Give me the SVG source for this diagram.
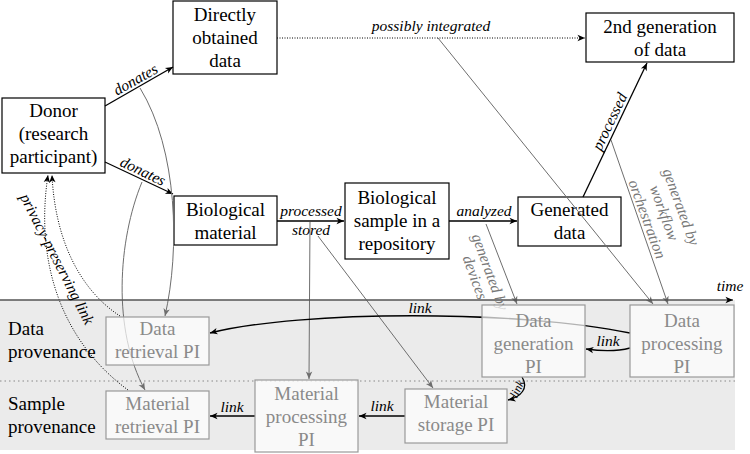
<svg xmlns="http://www.w3.org/2000/svg" width="750" height="454" viewBox="0 0 750 454">
<style>
text{font-family:'Liberation Serif','Times New Roman',serif}
.box{fill:#fff;stroke:#000;stroke-width:1.2}
.pi{fill:#fff;fill-opacity:0.7;stroke:#999;stroke-width:1.2}
.t{font-size:19px;text-anchor:middle;fill:#000}
.tp{font-size:19px;text-anchor:middle;fill:#8a8a8a}
.side{font-size:19px;fill:#000}
.lb{font-size:15.5px;font-style:italic;text-anchor:middle;fill:#000}
.lg{font-size:15.5px;font-style:italic;text-anchor:middle;fill:#777}
.blk{fill:none;stroke:#000;stroke-width:1.3;marker-end:url(#ah)}
.gry{fill:none;stroke:#6e6e6e;stroke-width:1;marker-end:url(#ahg)}
.dot{fill:none;stroke:#000;stroke-width:1;stroke-dasharray:1 1.5;marker-end:url(#ah)}
</style>
<defs>
<marker id="ah" viewBox="-8 -4 9 8" refX="0" refY="0" markerWidth="9" markerHeight="8" orient="auto" markerUnits="userSpaceOnUse"><path d="M0,0 L-7.5,-3.2 L-5.5,0 L-7.5,3.2 Z" fill="#000"/></marker>
<marker id="ahg" viewBox="-8 -4 9 8" refX="0" refY="0" markerWidth="9" markerHeight="8" orient="auto" markerUnits="userSpaceOnUse"><path d="M0,0 L-7.5,-3.2 L-5.5,0 L-7.5,3.2 Z" fill="#6e6e6e"/></marker>
</defs>

<g id="background">
<rect x="0" y="300" width="735" height="150" fill="#ebebeb"/>
<line x1="0" y1="381" x2="735" y2="381" stroke="#888" stroke-width="1" stroke-dasharray="1.5 3"/>
<text class="side" x="8" y="335">Data</text>
<text class="side" x="8" y="358">provenance</text>
<text class="side" x="8" y="410">Sample</text>
<text class="side" x="8" y="433">provenance</text>
</g>

<g id="n-direct"><rect class="box" x="173" y="1" width="104" height="73"/>
<text class="t" x="225" y="21">Directly</text><text class="t" x="225" y="44">obtained</text><text class="t" x="225" y="67">data</text></g>
<g id="n-donor"><rect class="box" x="2" y="98" width="103" height="75"/>
<text class="t" x="53.5" y="117">Donor</text><text class="t" x="53.5" y="140">(research</text><text class="t" x="53.5" y="163">participant)</text></g>
<g id="n-biomat"><rect class="box" x="174" y="196" width="103" height="49"/>
<text class="t" x="225.5" y="216">Biological</text><text class="t" x="225.5" y="239">material</text></g>
<g id="n-sample"><rect class="box" x="345" y="183" width="104" height="76"/>
<text class="t" x="397" y="204">Biological</text><text class="t" x="397" y="227">sample in a</text><text class="t" x="397" y="250">repository</text></g>
<g id="n-gendata"><rect class="box" x="518" y="197" width="103" height="49"/>
<text class="t" x="569.5" y="216">Generated</text><text class="t" x="569.5" y="239">data</text></g>
<g id="n-2nd"><rect class="box" x="586" y="13" width="148" height="49"/>
<text class="t" x="660" y="32.5">2nd generation</text><text class="t" x="660" y="55.5">of data</text></g>

<g id="connectors">
<path class="blk" d="M105,106 L173,67"/>
<path class="blk" d="M105,162 L173,194"/>
<path class="blk" d="M277,221 L344,221"/>
<path class="blk" d="M449,221 L517,221"/>
<path class="blk" d="M583,197 L647,63"/>
<path class="dot" d="M277,38 L585,38"/>
<path class="gry" d="M140,88 C178,150 180,250 165,316"/>
<path class="gry" d="M142,182 C118,240 112,330 145,390"/>
<path class="gry" d="M310,222 L309,379"/>
<path class="gry" d="M318,236 L433,388"/>
<path class="gry" d="M486,224 L517,304"/>
<path class="gry" d="M438,38 L653,304"/>
<path class="gry" d="M611,140 L668,304"/>
<path class="dot" d="M120,316 C80,290 55,240 52,175"/>
<path class="dot" d="M128,390 C60,340 35,260 48,175"/>
<path class="blk" d="M630,333 C520,310 300,310 210,333"/>
<path class="blk" d="M630,348 C615,352 600,351 586,349"/>
<path class="blk" d="M522,377 C529,388 521,397 508,400"/>
<path class="blk" d="M405,416 L359,416"/>
<path class="blk" d="M255,416 L210,416"/>
<path fill="none" stroke="#555" stroke-width="1.5" d="M0,300 L733,300" marker-end="url(#ah)"/>
<text class="lb" transform="translate(139.5,86.5) rotate(-29.5)" y="-3">donates</text>
<text class="lb" transform="translate(139.5,178.5) rotate(25.6)" y="-3">donates</text>
<text class="lb" x="311" y="216">processed</text>
<text class="lb" x="311" y="235">stored</text>
<text class="lb" x="484" y="216">analyzed</text>
<text class="lb" x="431" y="31">possibly integrated</text>
<text class="lb" transform="translate(617,125) rotate(-64.5)" y="-3">processed</text>
<text class="lb" x="730" y="291">time</text>
<g transform="translate(490,272) rotate(70)"><text class="lg" y="5">generated by</text><text class="lg" y="21">devices</text></g>
<g transform="translate(664,213) rotate(70)"><text class="lg" y="-13">generated by</text><text class="lg" y="5">workflow</text><text class="lg" y="23">orchestration</text></g>
<text class="lb" transform="translate(57,259) rotate(63)" y="5">privacy-preserving link</text>
<text class="lb" x="420" y="313">link</text>
<text class="lb" x="608" y="346">link</text>
<text class="lb" transform="translate(517,389) rotate(-65)" y="4" style="font-size:12px">link</text>
<text class="lb" x="382" y="411">link</text>
<text class="lb" x="232" y="412">link</text>
</g>

<g id="n-dret"><rect class="pi" x="106" y="317" width="103" height="48"/>
<text class="tp" x="157.5" y="335">Data</text><text class="tp" x="157.5" y="358">retrieval PI</text></g>
<g id="n-mret"><rect class="pi" x="106" y="391" width="103" height="48"/>
<text class="tp" x="157.5" y="410">Material</text><text class="tp" x="157.5" y="433">retrieval PI</text></g>
<g id="n-mproc"><rect class="pi" x="255" y="380" width="103" height="72"/>
<text class="tp" x="306.5" y="400">Material</text><text class="tp" x="306.5" y="423">processing</text><text class="tp" x="306.5" y="446">PI</text></g>
<g id="n-mstor"><rect class="pi" x="405" y="389" width="102" height="54"/>
<text class="tp" x="456" y="408">Material</text><text class="tp" x="456" y="431">storage PI</text></g>
<g id="n-dgen"><rect class="pi" x="482" y="305" width="103" height="72"/>
<text class="tp" x="533.5" y="327">Data</text><text class="tp" x="533.5" y="350">generation</text><text class="tp" x="533.5" y="373">PI</text></g>
<g id="n-dproc"><rect class="pi" x="630" y="305" width="104" height="72"/>
<text class="tp" x="682" y="327">Data</text><text class="tp" x="682" y="350">processing</text><text class="tp" x="682" y="373">PI</text></g>
</svg>
